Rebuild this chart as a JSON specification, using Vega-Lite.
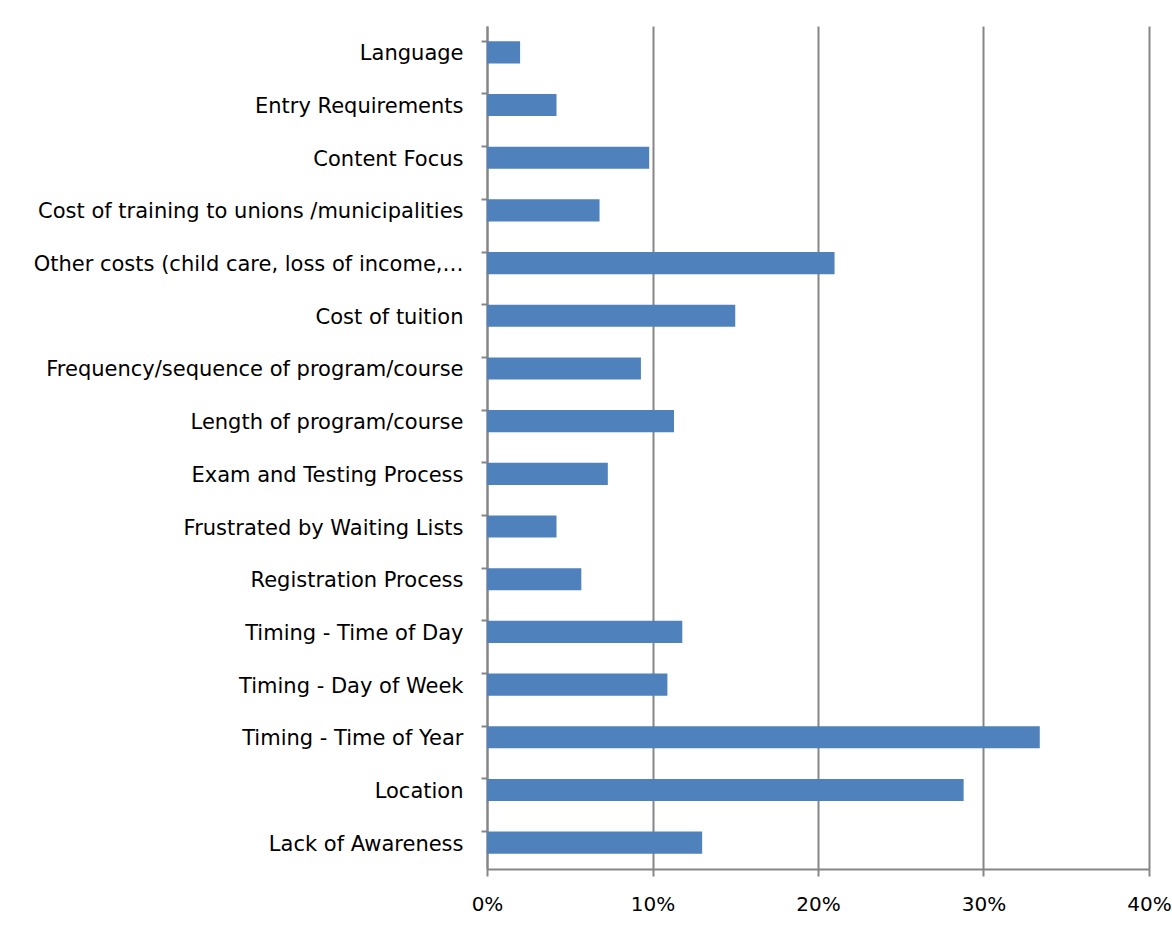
{
  "$schema": "https://vega.github.io/schema/vega-lite/v6.json",
  "width": 662,
  "height": 843,
  "autosize": {"type": "none"},
  "padding": {"left": 487, "top": 26, "right": 23, "bottom": 57},
  "background": "white",
  "config": {
    "view": {"stroke": null},
    "font": "DejaVu Sans"
  },
  "data": {
    "values": [
      {"barrier": "Language", "share": 0.020},
      {"barrier": "Entry Requirements", "share": 0.042},
      {"barrier": "Content Focus", "share": 0.098},
      {"barrier": "Cost of training to unions /municipalities", "share": 0.068},
      {"barrier": "Other costs (child care, loss of income,…", "share": 0.210},
      {"barrier": "Cost of tuition", "share": 0.150},
      {"barrier": "Frequency/sequence of program/course", "share": 0.093},
      {"barrier": "Length of program/course", "share": 0.113},
      {"barrier": "Exam and Testing Process", "share": 0.073},
      {"barrier": "Frustrated by Waiting Lists", "share": 0.042},
      {"barrier": "Registration Process", "share": 0.057},
      {"barrier": "Timing - Time of Day", "share": 0.118},
      {"barrier": "Timing - Day of Week", "share": 0.109},
      {"barrier": "Timing - Time of Year", "share": 0.334},
      {"barrier": "Location", "share": 0.288},
      {"barrier": "Lack of Awareness", "share": 0.130}
    ]
  },
  "mark": {"type": "bar", "color": "#4F81BD"},
  "encoding": {
    "y": {
      "field": "barrier",
      "type": "nominal",
      "sort": null,
      "title": null,
      "scale": {"paddingInner": 0.58, "paddingOuter": 0.29},
      "axis": {
        "bandPosition": 0,
        "domainColor": "#868686",
        "domainWidth": 2,
        "tickColor": "#868686",
        "tickWidth": 2,
        "tickSize": 6,
        "labelPadding": 18,
        "labelFontSize": 21,
        "labelBaseline": "middle",
        "labelOffset": 2,
        "labelColor": "#000000",
        "labelLimit": 0,
        "grid": false
      }
    },
    "x": {
      "field": "share",
      "type": "quantitative",
      "title": null,
      "scale": {"domain": [0, 0.4], "nice": false},
      "axis": {
        "values": [0, 0.1, 0.2, 0.3, 0.4],
        "format": ".0%",
        "grid": true,
        "gridColor": "#868686",
        "gridWidth": 2,
        "domainColor": "#868686",
        "domainWidth": 2,
        "tickColor": "#868686",
        "tickWidth": 2,
        "tickSize": 7,
        "labelPadding": 18,
        "labelFontSize": 20,
        "labelColor": "#000000",
        "labelFlush": false
      }
    }
  }
}
